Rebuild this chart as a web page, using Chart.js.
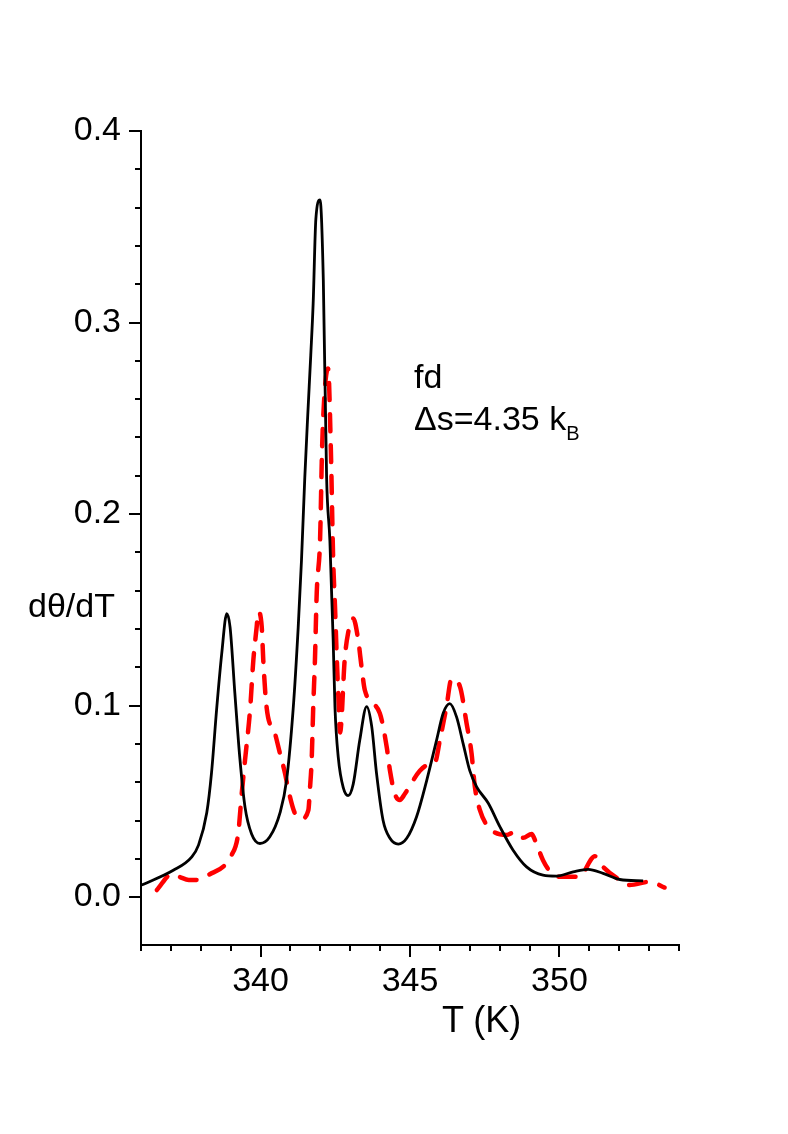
<!DOCTYPE html>
<html>
<head>
<meta charset="utf-8">
<script src="https://cdn.jsdelivr.net/npm/chart.js@4.4.1/dist/chart.umd.min.js"></script>
<style>
  body { margin: 0; background: #fff; }
  #wrap { position: relative; width: 788px; height: 1134px; }
  .lbl { position: absolute; font-family: "Liberation Sans", Arial, sans-serif; font-size: 34px; line-height: 34px; color: #000; white-space: nowrap; }
  .lbl sub { font-size: 20px; vertical-align: -10px; line-height: 0; }
</style>
</head>
<body>
<div id="wrap">
  <canvas id="myChart"></canvas>
  <div class="lbl" style="left:28px; top:588px;">dθ/dT</div>
  <div class="lbl" style="left:414px; top:359px;">fd</div>
  <div class="lbl" style="left:414px; top:401px;">Δs=4.35 k<sub>B</sub></div>
  <div class="lbl" style="left:442px; top:1003px; font-size:36px;">T (K)</div>
</div>
<script>
// black solid curve
const tBlack = [336.02, 337.08, 337.70, 337.92, 338.20, 338.36, 338.53, 338.70, 338.87, 338.98,
  339.14, 339.31, 339.48, 339.70, 339.98, 340.31, 340.65, 340.87, 341.09, 341.26,
  341.37, 341.48, 341.58, 341.68, 341.76, 341.85, 341.99, 342.10, 342.21, 342.32, 342.43,
  342.49, 342.60, 342.77, 342.93, 343.10, 343.32, 343.55, 343.72, 343.88, 344.10,
  344.33, 344.61, 344.89, 345.22, 345.56, 345.89, 346.11, 346.33, 346.56, 346.78,
  347.00, 347.23, 347.62, 348.01, 348.45, 348.90, 349.45, 349.90, 350.46, 350.96,
  351.46, 352.02, 352.80]
const yBlack = [0.0063, 0.014, 0.021, 0.027, 0.044, 0.065, 0.098, 0.127, 0.148, 0.141,
  0.1065, 0.072, 0.047, 0.033, 0.028, 0.0315, 0.044, 0.061, 0.098, 0.141,
  0.176, 0.219, 0.252, 0.283, 0.310, 0.354, 0.364, 0.322, 0.219, 0.186, 0.134,
  0.099, 0.073, 0.057, 0.053, 0.059, 0.082, 0.0995, 0.089, 0.0646, 0.040,
  0.0307, 0.0277, 0.0307, 0.042, 0.061, 0.082, 0.096, 0.101, 0.094, 0.080,
  0.066, 0.0576, 0.049, 0.0367, 0.0245, 0.0158, 0.0115, 0.011, 0.0132, 0.0145,
  0.0124, 0.0092, 0.0085]

// red dashed curve
const tRed = [336.53, 337.03, 337.30, 337.60, 337.85, 338.25, 339.03, 339.25, 339.37, 339.48,
  339.65, 339.76, 339.87, 339.92, 340.04, 340.09, 340.20, 340.48, 340.65, 340.82,
  340.93, 341.15, 341.37, 341.60, 341.65, 341.71, 341.76, 341.82, 341.88, 341.99,
  342.06, 342.15, 342.26, 342.35, 342.43, 342.49, 342.55, 342.60, 342.66, 342.82,
  342.93, 343.10, 343.27, 343.38, 343.49, 343.99, 344.22, 344.33, 344.49, 344.66,
  344.83, 345.33, 345.61, 345.83, 346.00, 346.22, 346.39, 346.67, 346.89, 347.06,
  347.17, 347.34, 347.62, 348.23, 348.50, 348.79, 349.07, 349.18, 349.45, 349.74,
  350.01, 350.68, 350.85, 351.07, 351.18, 351.46, 352.02, 352.35, 353.02, 353.52]
const yRed = [0.0037, 0.012, 0.0105, 0.009, 0.009, 0.0115, 0.022, 0.033, 0.054, 0.0715,
  0.098, 0.124, 0.141, 0.149, 0.141, 0.124, 0.0994, 0.0856, 0.075, 0.0646,
  0.056, 0.0437, 0.041, 0.0454, 0.056, 0.0715, 0.098, 0.124, 0.159, 0.186,
  0.235, 0.265, 0.276, 0.235, 0.176, 0.152, 0.125, 0.106, 0.086, 0.125,
  0.138, 0.1455, 0.134, 0.120, 0.108, 0.096, 0.0785, 0.066, 0.054, 0.0507,
  0.054, 0.066, 0.069, 0.070, 0.082, 0.0994, 0.114, 0.11, 0.091, 0.075,
  0.0576, 0.0454, 0.0367, 0.0324, 0.034, 0.031, 0.033, 0.0298, 0.0193, 0.0124,
  0.0106, 0.0106, 0.014, 0.020, 0.0214, 0.0158, 0.0089, 0.0063, 0.008, 0.005]

const xMin = 336, xMax = 354
const yMin = -0.025, yMax = 0.4

function pts(xs, ys) {
  return xs.map((x, i) => ({ x: x, y: ys[i] }))
}

// longer ticks at labelled (major) positions
const majorTicks = {
  id: 'majorTicks',
  afterDraw(chart) {
    const c = chart.ctx
    const xs = chart.scales.x
    const ys = chart.scales.y
    c.save()
    c.strokeStyle = '#000'
    c.lineWidth = 2
    c.beginPath()
    for (let v = 340; v <= xMax; v += 5) {
      const px = Math.round(xs.getPixelForValue(v))
      c.moveTo(px, xs.top)
      c.lineTo(px, xs.top + 12)
    }
    for (let v = 0; v <= yMax + 1e-9; v += 0.1) {
      const py = Math.round(ys.getPixelForValue(v))
      c.moveTo(ys.right - 12, py)
      c.lineTo(ys.right, py)
    }
    c.stroke()
    c.restore()
  }
}

Chart.defaults.font.family = '"Liberation Sans", Arial, sans-serif'
Chart.defaults.color = '#000'

new Chart(document.getElementById('myChart'), {
  type: 'scatter',
  data: {
    datasets: [
      {
        data: pts(tBlack, yBlack),
        showLine: true,
        borderColor: '#000',
        borderWidth: 2.8,
        pointRadius: 0,
        cubicInterpolationMode: 'monotone'
      },
      {
        data: pts(tRed, yRed),
        showLine: true,
        borderColor: '#ff0000',
        borderWidth: 4.5,
        borderDash: [17, 14],
        borderCapStyle: 'round',
        pointRadius: 0,
        cubicInterpolationMode: 'monotone'
      }
    ]
  },
  options: {
    responsive: true,
    maintainAspectRatio: false,
    devicePixelRatio: 1,
    animation: false,
    layout: { padding: { top: 131, right: 109, left: 0, bottom: 0 } },
    plugins: { legend: { display: false }, tooltip: { enabled: false } },
    scales: {
      x: {
        type: 'linear',
        min: xMin,
        max: xMax,
        afterFit: s => { s.height = 189 },
        border: { display: true, color: '#000', width: 2 },
        grid: { drawOnChartArea: false, color: '#000', lineWidth: 2, tickLength: 6 },
        ticks: {
          stepSize: 1,
          autoSkip: false,
          maxRotation: 0,
          padding: 10,
          font: { size: 34 },
          callback: v => (v % 5 === 0 ? String(v) : '')
        }
      },
      y: {
        min: yMin,
        max: yMax,
        afterFit: s => { s.width = 141 },
        afterBuildTicks: s => {
          s.ticks = s.ticks.filter(t => Math.abs(t.value / 0.02 - Math.round(t.value / 0.02)) < 1e-6)
        },
        border: { display: true, color: '#000', width: 2 },
        grid: { drawOnChartArea: false, color: '#000', lineWidth: 2, tickLength: 6 },
        ticks: {
          stepSize: 0.02,
          autoSkip: false,
          padding: 14,
          font: { size: 34 },
          callback: v => (Math.abs(v * 10 - Math.round(v * 10)) < 1e-6 ? v.toFixed(1) : '')
        }
      }
    }
  },
  plugins: [majorTicks]
})
</script>
</body>
</html>
